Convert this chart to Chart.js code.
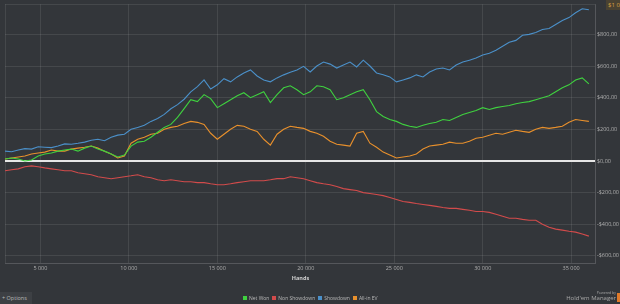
<!DOCTYPE html>
<html>
<head>
<meta charset="utf-8">
<script src="https://cdn.jsdelivr.net/npm/chart.js@4.4.1/dist/chart.umd.min.js"></script>
<style>
  html, body { margin: 0; padding: 0; background: #33363a; }
  #wrap { position: relative; width: 620px; height: 304px; overflow: hidden; font-family: "Open Sans", sans-serif; }
  #opts { position: absolute; left: 0; top: 292px; width: 30px; height: 12px; background: #3d4044; color: #b8b8b8; font-size: 5.5px; line-height: 12px; padding-left: 2px; }
  #brand { position: absolute; right: 4px; bottom: 3px; color: #a8a8a8; text-align: right; font-size: 6px; line-height: 6px; }
  #brand small { font-size: 3.5px; display: block; line-height: 5px; }
  #logo { position: absolute; right: 0; bottom: 2px; width: 3px; height: 9px; background: #e07a2a; }
  #hover { position: absolute; left: 606px; top: 0; color: #d9a040; font-size: 6px; background: #4a4232; padding: 1px 2px; white-space: nowrap; }
  #legend { position: absolute; left: 243px; top: 294px; height: 8px; font-size: 5px; line-height: 8px; color: #b8b8b8; white-space: nowrap; }
  #legend span { margin-right: 3px; }
  #legend i { display: inline-block; width: 4px; height: 4px; margin-right: 2px; vertical-align: 0; }
</style>
</head>
<body>
<div id="wrap">
  <canvas id="myChart" width="620" height="304"></canvas>
  <div id="hover">$1 000,00</div>
  <div id="opts">+ Options</div>
  <div id="legend"></div>
  <div id="brand"><small>Powered by</small>Hold'em Manager</div>
  <div id="logo"></div>
</div>
<script>
// hands played (x axis)
var hands = [3000,3375,3750,4125,4500,4875,5250,5625,6000,6375,
  6750,7125,7500,7875,8250,8625,9000,9375,9750,10125,
  10500,10875,11250,11625,12000,12375,12750,13125,13500,13875,
  14250,14625,15000,15375,15750,16125,16500,16875,17250,17625,
  18000,18375,18750,19125,19500,19875,20250,20625,21000,21375,
  21750,22125,22500,22875,23250,23625,24000,24375,24750,25125,
  25500,25875,26250,26625,27000,27375,27750,28125,28500,28875,
  29250,29625,30000,30375,30750,31125,31500,31875,32250,32625,
  33000,33375,33750,34125,34500,34875,35250,35625,36000];

var netWon = [12,19,12,0,6,31,44,50,62,69,
  75,62,81,94,75,62,44,25,37,94,
  119,125,150,181,212,231,275,331,387,375,
  419,394,337,362,387,412,431,400,419,437,
  369,419,462,475,450,419,437,475,469,450,
  387,400,419,437,450,387,312,281,262,250,
  231,219,212,225,237,244,262,256,275,294,
  306,319,337,325,337,344,350,362,369,375,
  387,400,412,437,462,481,512,525,487];

var nonShowdown = [-62,-56,-50,-37,-31,-37,-44,-50,-56,-62,
  -62,-75,-81,-87,-100,-106,-112,-106,-100,-94,
  -87,-100,-106,-119,-125,-119,-125,-131,-131,-137,
  -137,-144,-150,-150,-144,-137,-131,-125,-125,-125,
  -119,-112,-112,-100,-106,-112,-125,-137,-144,-150,
  -162,-175,-181,-187,-200,-206,-212,-219,-231,-244,
  -256,-262,-269,-275,-281,-287,-294,-300,-300,-306,
  -312,-319,-319,-325,-337,-350,-362,-362,-369,-375,
  -375,-400,-419,-431,-437,-444,-450,-462,-475];

var showdown = [62,58,69,78,75,90,87,84,94,108,
  106,112,119,131,137,128,150,163,169,200,
  212,225,250,268,294,330,356,390,437,470,
  512,455,481,520,500,531,556,575,537,512,
  500,525,544,560,575,598,562,600,625,612,
  587,606,625,594,637,600,556,545,531,500,
  512,525,544,531,562,581,587,575,606,625,
  637,650,669,681,700,725,750,762,794,800,
  812,831,837,862,887,906,937,962,956];

var allInEV = [12,19,25,31,44,50,56,69,62,62,
  75,81,87,94,81,62,44,19,31,112,
  137,150,169,175,200,212,219,237,250,244,
  231,175,137,169,200,225,219,200,187,137,
  100,169,200,219,212,206,187,175,156,125,
  106,100,94,175,187,112,87,56,37,19,
  25,31,44,75,94,100,106,119,112,112,
  125,144,150,162,175,169,181,194,187,181,
  200,212,206,212,219,244,262,256,250];

var xTicks = [5000, 10000, 15000, 20000, 25000, 30000, 35000];
var yTicks = [-600, -400, -200, 0, 200, 400, 600, 800];

var seriesNames = ["Net Won", "Non Showdown", "Showdown", "All-in EV"];
var seriesColors = ["#3fd13f", "#d24b4b", "#4b90c9", "#e8902c"];
var seriesData = [netWon, nonShowdown, showdown, allInEV];

function pts(vals) {
  return vals.map(function (v, i) { return { x: hands[i], y: v }; });
}

var datasets = seriesData.map(function (vals, i) {
  return {
    label: seriesNames[i],
    data: pts(vals),
    borderColor: seriesColors[i],
    backgroundColor: seriesColors[i],
    borderWidth: 1.1,
    pointRadius: 0,
    tension: 0,
    fill: false
  };
});

// put ticks exactly on the wanted values (plus the bounds, for the frame lines)
function fixTicks(list) {
  return function (s) {
    var vals = [s.min].concat(list, [s.max]);
    s.ticks = vals.map(function (v) { return { value: v }; });
  };
}

Chart.defaults.font.family = "'Open Sans', sans-serif";
Chart.defaults.color = "#b8b8b8";

var gridCol = "rgba(255,255,255,0.09)";

var chart = new Chart("myChart", {
  type: "line",
  data: { datasets: datasets },
  options: {
    responsive: false,
    animation: false,
    layout: { padding: { left: 5, top: 4, right: 0, bottom: 22 } },
    scales: {
      x: {
        type: "linear",
        min: 3000,
        max: 36400,
        afterBuildTicks: fixTicks(xTicks),
        ticks: {
          padding: 1,
          maxRotation: 0,
          autoSkip: false,
          font: { size: 5.5 },
          color: "#b0b0b0",
          callback: function (v) {
            if (xTicks.indexOf(v) < 0) return "";
            return String(v).replace(/(\d)(?=(\d{3})+$)/, "$1 ");
          }
        },
        grid: { color: gridCol, drawTicks: false },
        border: { color: gridCol },
        title: { display: true, text: "Hands", color: "#d0d0d0", font: { size: 5.5, weight: "bold" }, padding: { top: 3, bottom: 0 } }
      },
      y: {
        position: "right",
        min: -650,
        max: 990,
        afterBuildTicks: fixTicks(yTicks),
        ticks: {
          padding: 1,
          autoSkip: false,
          font: { size: 5.5 },
          color: "#b0b0b0",
          callback: function (v) {
            if (yTicks.indexOf(v) < 0) return "";
            return (v < 0 ? "-$" : "$") + Math.abs(v) + ",00";
          }
        },
        grid: {
          drawTicks: false,
          color: function (c) { return c.tick && c.tick.value === 0 ? "#e6e6e6" : gridCol; },
          lineWidth: function (c) { return c.tick && c.tick.value === 0 ? 2 : 1; }
        },
        border: { color: gridCol }
      }
    },
    plugins: {
      legend: { display: false },
      tooltip: { enabled: false }
    }
  }
});

// legend from the chart's own datasets
var lg = document.getElementById("legend");
chart.data.datasets.forEach(function (ds) {
  var s = document.createElement("span");
  var b = document.createElement("i");
  b.style.background = ds.borderColor;
  s.appendChild(b);
  s.appendChild(document.createTextNode(ds.label));
  lg.appendChild(s);
});
</script>
</body>
</html>
